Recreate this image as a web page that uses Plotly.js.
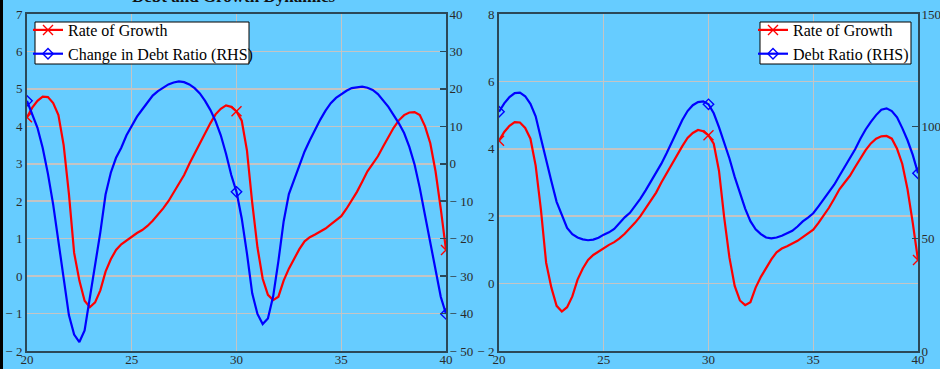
<!DOCTYPE html>
<html>
<head>
<meta charset="utf-8">
<script src="https://cdn.plot.ly/plotly-3.0.1.min.js"></script>
<style>html,body{margin:0;padding:0;background:#66ccff;}#chart{width:940px;height:369px;}</style>
</head>
<body>
<div id="chart"></div>
<script>
// ---- data ----
const years = [20,20.25,20.5,20.75,21,21.25,21.5,21.75,22,22.25,22.5,22.75,23,23.25,23.5,23.75,24,24.25,24.5,24.75,
  25,25.25,25.5,25.75,26,26.25,26.5,26.75,27,27.25,27.5,27.75,28,28.25,28.5,28.75,29,29.25,29.5,29.75,
  30,30.25,30.5,30.75,31,31.25,31.5,31.75,32,32.25,32.5,32.75,33,33.25,33.5,33.75,34,34.25,34.5,34.75,
  35,35.25,35.5,35.75,36,36.25,36.5,36.75,37,37.25,37.5,37.75,38,38.25,38.5,38.75,39,39.25,39.5,39.75,40];

const growthRate = [4.24,4.50,4.68,4.79,4.78,4.62,4.30,3.50,2.20,0.62,-0.12,-0.66,-0.83,-0.70,-0.38,0.12,0.45,0.70,0.85,0.95,
  1.06,1.15,1.23,1.34,1.48,1.64,1.81,2.00,2.23,2.46,2.70,3.00,3.28,3.53,3.82,4.08,4.32,4.47,4.56,4.52,
  4.40,4.15,3.35,1.96,0.77,-0.07,-0.50,-0.64,-0.55,-0.12,0.20,0.47,0.72,0.93,1.04,1.11,1.18,1.27,1.38,1.49,
  1.60,1.80,2.02,2.25,2.52,2.80,3.00,3.20,3.46,3.73,3.96,4.16,4.30,4.37,4.38,4.30,4.00,3.55,2.80,1.80,0.70];

const debtRatioChange = [16.8,13.2,9.6,4.2,-2.7,-10.9,-20.3,-31.0,-40.4,-45.6,-47.6,-44.5,-36.1,-26.5,-18.3,-8.2,-2.4,1.6,4.3,7.6,
  10.2,12.6,14.5,16.3,18.2,19.4,20.4,21.2,21.7,22.0,21.8,21.2,20.2,18.8,16.8,14.4,11.4,7.6,2.7,-3.0,
  -7.5,-14.6,-24.0,-34.6,-40.1,-42.8,-41.3,-35.4,-26.0,-15.4,-8.1,-4.4,-0.6,3.3,6.3,9.2,11.8,14.2,16.2,17.6,
  18.6,19.5,20.2,20.5,20.6,20.3,19.7,18.6,17.0,15.2,13.0,10.8,8.2,4.5,-0.2,-6.5,-13.8,-21.0,-28.7,-35.5,-40.1];

const debtRatio = [106.5,110.2,113.0,114.8,115.0,113.4,110.0,104.5,94.7,84.4,75.6,66.4,60.2,54.8,52.0,50.5,49.7,49.3,49.6,50.4,
  51.8,52.8,54.3,56.8,59.5,61.5,64.4,67.8,71.5,75.3,79.3,83.4,88.0,92.8,98.0,102.8,106.8,109.4,110.8,111.1,
  109.8,105.8,99.6,92.6,85.7,77.5,70.1,63.4,57.8,54.2,52.0,50.5,50.1,50.5,51.3,52.3,53.5,55.4,57.7,59.4,
  61.3,64.4,67.6,70.7,74.0,78.0,81.8,85.8,89.8,94.5,98.6,102.0,105.0,107.4,108.0,106.8,104.0,99.2,93.8,87.3,79.1];

const markerYears = [20, 30, 40];

const xTicks = [20, 25, 30, 35, 40];
const xTickText = ['20', '25', '30', '35', '40'];
const y1Ticks = [-2, -1, 0, 1, 2, 3, 4, 5, 6, 7];
const y1TickText = ['\u2212 2', '\u2212 1', '0', '1', '2', '3', '4', '5', '6', '7'];
const y2Ticks = [-50, -40, -30, -20, -10, 0, 10, 20, 30, 40];
const y2TickText = ['\u2212 50', '\u2212 40', '\u2212 30', '\u2212 20', '\u2212 10', '0', '10', '20', '30', '40'];
const y3Ticks = [-2, 0, 2, 4, 6, 8];
const y3TickText = ['\u2212 2', '0', '2', '4', '6', '8'];
const y4Ticks = [0, 50, 100, 150];
const y4TickText = ['0', '50', '100', '150'];

const chartTitle = 'Debt and Growth Dynamics';
const nameGrowth = 'Rate of Growth';
const nameChange = 'Change in Debt Ratio (RHS)';
const nameDebt = 'Debt Ratio (RHS)';

// ---- styling ----
const markIdx = years.map((v, i) => markerYears.includes(v) ? i : -1).filter(i => i >= 0);
const RED = '#ff0000', BLUE = '#0000ff';
const AXC = '#2b4858';
const GRID = '#c4c4c4';
const FONT = 'Liberation Serif';
const tickFont = {family: FONT, size: 13, color: '#2a2a2a'};

function lineTrace(x, y, xa, ya, name, color, symbol, msize, legend) {
  return {
    x: x, y: y, xaxis: xa, yaxis: ya, name: name, legend: legend,
    type: 'scatter', mode: 'lines+markers',
    line: {color: color, width: 2.2},
    marker: {symbol: symbol, size: msize, color: color, line: {color: color, width: 1.4}},
    selectedpoints: markIdx,
    selected: {marker: {opacity: 1}},
    unselected: {marker: {opacity: 0}},
    hoverinfo: 'skip'
  };
}

const traces = [
  lineTrace(years, growthRate, 'x', 'y', nameGrowth, RED, 'x-thin-open', 10, 'legend'),
  lineTrace(years, debtRatioChange, 'x', 'y2', nameChange, BLUE, 'diamond-open', 8, 'legend'),
  lineTrace(years, growthRate, 'x2', 'y3', nameGrowth, RED, 'x-thin-open', 10, 'legend2'),
  lineTrace(years, debtRatio, 'x2', 'y4', nameDebt, BLUE, 'diamond-open', 8, 'legend2')
];

const W = 940, H = 369;
const mL = 27, mR = 22, mT = 14, mB = 18;
const pw = W - mL - mR, ph = H - mT - mB;
const leftEnd = (446 - mL) / pw, rightStart = (499 - mL) / pw;
const px = v => (v - mL) / pw;            // pixel x -> paper x
const py = v => 1 - (v - mT) / ph;        // pixel y -> paper y

const baseX = {
  range: [20, 40], tickmode: 'array', tickvals: xTicks, ticktext: xTickText,
  showgrid: true, gridcolor: GRID, gridwidth: 1, zeroline: false,
  showline: true, mirror: true, linecolor: AXC, linewidth: 2,
  ticks: '', tickfont: tickFont, fixedrange: true, ticklabelstandoff: -5
};
const baseYL = {
  tickmode: 'array', showgrid: true, gridcolor: GRID, gridwidth: 1.5, zeroline: false,
  showline: true, linecolor: AXC, linewidth: 2, ticks: '', tickfont: tickFont, fixedrange: true,
  ticklabelstandoff: 0
};
const baseYR = {
  tickmode: 'array', side: 'right', showgrid: false, zeroline: false,
  showline: true, linecolor: AXC, linewidth: 2, ticks: 'inside', ticklen: 6, tickwidth: 1.5, tickcolor: AXC,
  tickfont: tickFont, fixedrange: true, ticklabelstandoff: -1
};

const legendBase = {
  bgcolor: 'rgba(0,0,0,0)', borderwidth: 0,
  font: {family: FONT, size: 16, color: '#000000'},
  yanchor: 'top', y: py(13), traceorder: 'normal', itemwidth: 30,
  tracegroupgap: 0
};

function boxShape(x0, x1, y0, y1) {
  return {type: 'rect', xref: 'paper', yref: 'paper', x0: px(x0), x1: px(x1), y0: py(y1), y1: py(y0),
    fillcolor: '#ffffff', line: {color: '#000000', width: 1}, layer: 'above'};
}

const layout = {
  width: W, height: H,
  margin: {l: mL, r: mR, t: mT, b: mB, pad: 0},
  paper_bgcolor: '#66ccff', plot_bgcolor: '#66ccff',
  font: {family: FONT, color: '#2a2a2a'},
  showlegend: true,
  xaxis: Object.assign({}, baseX, {domain: [0, leftEnd], anchor: 'y'}),
  yaxis: Object.assign({}, baseYL, {domain: [0, 1], anchor: 'x', range: [-2, 7], tickvals: y1Ticks, ticktext: y1TickText}),
  yaxis2: Object.assign({}, baseYR, {overlaying: 'y', anchor: 'x', range: [-50, 40], tickvals: y2Ticks, ticktext: y2TickText}),
  xaxis2: Object.assign({}, baseX, {domain: [rightStart, 1], anchor: 'y3'}),
  yaxis3: Object.assign({}, baseYL, {domain: [0, 1], anchor: 'x2', range: [-2, 8], tickvals: y3Ticks, ticktext: y3TickText}),
  yaxis4: Object.assign({}, baseYR, {overlaying: 'y3', anchor: 'x2', range: [0, 150], tickvals: y4Ticks, ticktext: y4TickText}),
  legend: Object.assign({}, legendBase, {x: px(28), xanchor: 'left'}),
  legend2: Object.assign({}, legendBase, {x: px(753), xanchor: 'left'}),
  annotations: [{
    text: '<b>' + chartTitle + '</b>', xref: 'paper', yref: 'paper',
    x: px(234), y: py(-3), xanchor: 'center', yanchor: 'middle',
    showarrow: false, font: {family: FONT, size: 17, color: '#111111'}
  }],
  shapes: [
    boxShape(35, 249, 22, 64),
    boxShape(760, 911, 22, 64),
    {
      type: 'rect', xref: 'paper', yref: 'paper',
      x0: px(0), x1: px(3), y0: py(H) - 0.01, y1: py(0) + 0.01,
      fillcolor: '#000000', line: {width: 0}, layer: 'above'
    }
  ]
};

Plotly.newPlot('chart', traces, layout, {staticPlot: true, displayModeBar: false});
</script>
</body>
</html>
